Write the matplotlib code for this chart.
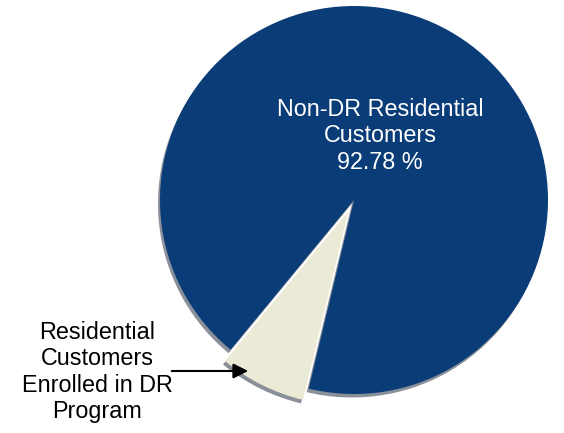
import matplotlib.pyplot as plt

# данные
labels = ['Residential\nCustomers\nEnrolled in DR\nProgram', 'Non-DR Residential\nCustomers']
shares = [7.22, 92.78]
colors = ['#EAEAD6', '#0A3C78']

plt.rcParams['font.family'] = ['Liberation Sans', 'DejaVu Sans']

fig = plt.figure(figsize=(5.64, 4.33), dpi=100)
ax = fig.add_axes([0, 0, 1, 1])

cx, cy, r = 354, 233, 194
start = 230.5
explode = [0.065 * r, 0.0]  # в pie смещение задаётся в единицах данных

# тень
ax.pie(shares, explode=explode, colors=['#8A9099', '#8A9099'], startangle=start,
       radius=r, center=(cx - 2, cy - 3.5), wedgeprops=dict(linewidth=0))
# сам пирог
ax.pie(shares, explode=explode, colors=colors, startangle=start,
       radius=r, center=(cx, cy), wedgeprops=dict(linewidth=0))

ax.set_xlim(0, 564)
ax.set_ylim(0, 433)
ax.set_aspect('equal')
ax.axis('off')

ax.text(380, 297, labels[1] + '\n' + f'{shares[1]:.2f} %', color='white',
        fontsize=16.8, ha='center', va='center', linespacing=1.17)

ax.annotate('', xy=(251, 62), xytext=(169, 62),
            arrowprops=dict(arrowstyle='-|>,head_length=0.9,head_width=0.45',
                            color='black', lw=1.5))
ax.text(97, 61, labels[0], color='black', fontsize=16.8, ha='center', va='center',
        linespacing=1.17)

plt.savefig('out.png', dpi=100)
